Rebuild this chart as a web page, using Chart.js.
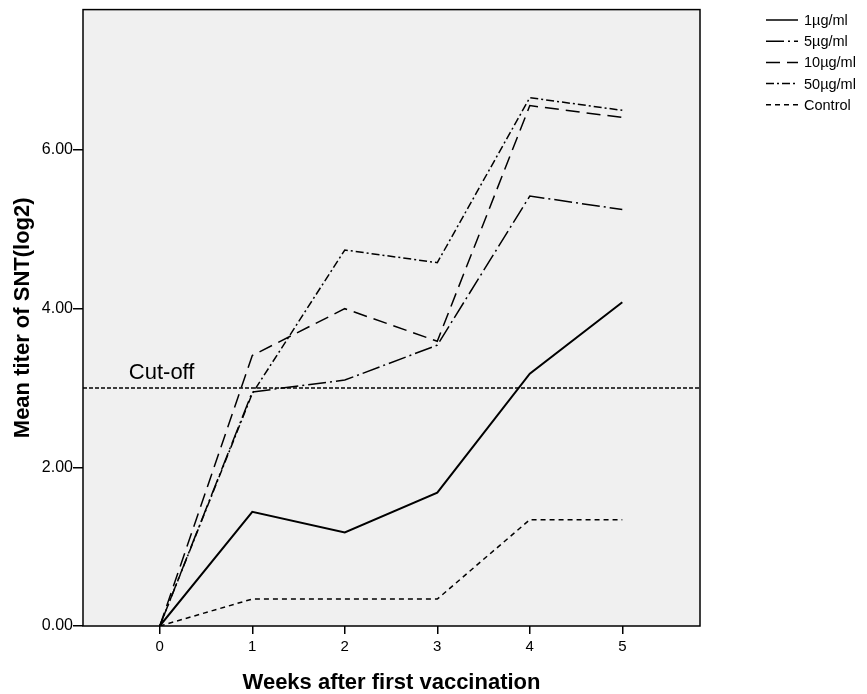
<!DOCTYPE html>
<html>
<head>
<meta charset="utf-8">
<script src="https://cdn.jsdelivr.net/npm/chart.js@4.4.0/dist/chart.umd.min.js"></script>
<style>
  html, body { margin: 0; padding: 0; background: #fff; }
  #wrap { width: 867px; height: 694px; }
</style>
</head>
<body>
<div id="wrap"><canvas id="c" width="867" height="694"></canvas></div>
<script>
// data
var weeks = [0, 1, 2, 3, 4, 5];
var dose1 = [0, 1.44, 1.18, 1.68, 3.18, 4.08];
var dose5 = [0, 2.95, 3.10, 3.54, 5.42, 5.25];
var dose10 = [0, 3.41, 4.00, 3.59, 6.56, 6.41];
var dose50 = [0, 2.93, 4.74, 4.58, 6.66, 6.50];
var control = [0, 0.34, 0.34, 0.34, 1.34, 1.34];
var cutoff = 3;
var yTicks = [0, 2, 4, 6];
var xRange = [-0.83, 5.84];
var yMax = 7.77;

function pts(vals) {
    return weeks.map(function (w, i) { return {x: w, y: vals[i]}; });
}

var series = [
    {label: '1\u00b5g/ml', data: dose1, dash: [], width: 2},
    {label: '5\u00b5g/ml', data: dose5, dash: [18, 4, 2, 4], width: 1.5},
    {label: '10\u00b5g/ml', data: dose10, dash: [14, 7], width: 1.5},
    {label: '50\u00b5g/ml', data: dose50, dash: [8, 3, 2, 3], width: 1.5},
    {label: 'Control', data: control, dash: [5, 4], width: 1.5}
];

var datasets = series.map(function (s) {
    return {
        label: s.label,
        data: pts(s.data),
        borderColor: '#000',
        borderWidth: s.width,
        borderDash: s.dash,
        pointRadius: 0,
        fill: false,
        tension: 0
    };
});
datasets.push({
    label: 'cutoff',
    data: [{x: xRange[0], y: cutoff}, {x: xRange[1], y: cutoff}],
    borderColor: '#000',
    borderWidth: 1.5,
    borderDash: [4, 2],
    pointRadius: 0
});

var frame = {
    id: 'frame',
    beforeDraw: function (chart) {
        var a = chart.chartArea, ctx = chart.ctx;
        ctx.save();
        ctx.fillStyle = '#f0f0f0';
        ctx.fillRect(a.left, a.top, a.right - a.left, a.bottom - a.top);
        ctx.restore();
    },
    afterDraw: function (chart) {
        var a = chart.chartArea, ctx = chart.ctx;
        var xs = chart.scales.x, ys = chart.scales.y;
        ctx.save();
        ctx.strokeStyle = '#000';
        ctx.lineWidth = 1.5;
        ctx.setLineDash([]);
        ctx.strokeRect(a.left, a.top, a.right - a.left, a.bottom - a.top);

        // cut-off label
        ctx.fillStyle = '#000';
        ctx.font = '22px "Liberation Sans", Arial, sans-serif';
        ctx.textAlign = 'center';
        ctx.textBaseline = 'alphabetic';
        ctx.fillText('Cut-off', xs.getPixelForValue(0.02), ys.getPixelForValue(cutoff) - 9);

        // legend
        ctx.font = '14.5px "Liberation Sans", Arial, sans-serif';
        ctx.textAlign = 'left';
        ctx.textBaseline = 'middle';
        series.forEach(function (s, i) {
            var y = 20 + i * 21.2;
            ctx.beginPath();
            ctx.lineWidth = 1.5;
            ctx.setLineDash(s.dash);
            ctx.moveTo(766, y);
            ctx.lineTo(798, y);
            ctx.stroke();
            ctx.setLineDash([]);
            ctx.fillText(s.label, 804, y + 1);
        });
        ctx.restore();
    }
};

new Chart(document.getElementById('c'), {
    type: 'line',
    data: {datasets: datasets},
    options: {
        responsive: false,
        animation: false,
        layout: {padding: {left: 0, top: 8, right: 167, bottom: 0}},
        plugins: {legend: {display: false}, tooltip: {enabled: false}},
        scales: {
            x: {
                type: 'linear',
                min: xRange[0],
                max: xRange[1],
                afterBuildTicks: function (sc) {
                    sc.ticks = weeks.map(function (v) { return {value: v}; });
                },
                afterFit: function (sc) { sc.height = 68; },
                grid: {drawOnChartArea: false, color: '#000', tickLength: 8, lineWidth: 1.5},
                border: {display: false},
                ticks: {
                    color: '#000',
                    padding: 4,
                    maxRotation: 0,
                    font: {family: '"Liberation Sans Narrow", "Liberation Sans", Arial', size: 15}
                },
                title: {
                    display: true,
                    text: 'Weeks after first vaccination',
                    color: '#000',
                    padding: {top: 10, bottom: 0},
                    font: {family: '"Liberation Sans", Arial', size: 22, weight: 'bold', lineHeight: 1.0}
                }
            },
            y: {
                type: 'linear',
                min: 0,
                max: yMax,
                afterBuildTicks: function (sc) {
                    sc.ticks = yTicks.map(function (v) { return {value: v}; });
                },
                afterFit: function (sc) { sc.width = 83; },
                grid: {drawOnChartArea: false, color: '#000', tickLength: 10, lineWidth: 1.5},
                border: {display: false},
                ticks: {
                    color: '#000',
                    padding: 0,
                    font: {family: '"Liberation Sans", Arial', size: 16},
                    callback: function (v) { return v.toFixed(2); }
                },
                title: {
                    display: true,
                    text: 'Mean titer of SNT(log2)',
                    color: '#000',
                    padding: {top: 10, bottom: 4},
                    font: {family: '"Liberation Sans", Arial', size: 22, weight: 'bold'}
                }
            }
        }
    },
    plugins: [frame]
});
</script>
</body>
</html>
